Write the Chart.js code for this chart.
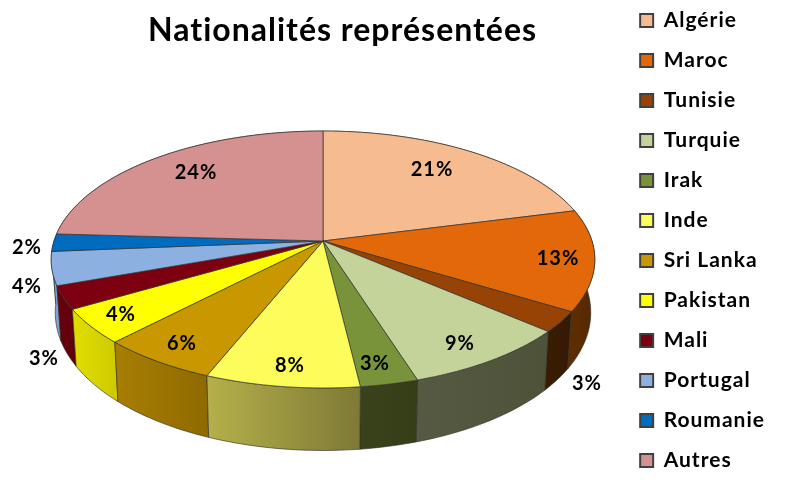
<!DOCTYPE html>
<html>
<head>
<meta charset="utf-8">
<title>Nationalités représentées</title>
<script src="https://cdn.jsdelivr.net/npm/chart.js@4"></script>
<style>
  html, body { margin: 0; padding: 0; background: #fff; }
  canvas { display: block; }
</style>
</head>
<body>
<canvas id="chart" width="800" height="497"></canvas>
<script>
const categories = ['Algérie', 'Maroc', 'Tunisie', 'Turquie', 'Irak', 'Inde', 'Sri Lanka', 'Pakistan', 'Mali', 'Portugal', 'Roumanie', 'Autres'];
const shares = [21, 12.7, 2.6, 8.8, 3, 8, 6.1, 4.4, 2.9, 4.2, 2.2, 24.1];

const topColors = ['#F6BB8E', '#E2680A', '#964305', '#C3D39A', '#789339', '#FCFC5B', '#C99700', '#FFFF00', '#7C0010', '#8CB1E0', '#006CBF', '#D59090'];
const wallLeft = ['#8a5a30', '#5e2d02', '#391c03', '#565A42', '#3A421B', '#B5B04A', '#A87E03', '#E2DE00', '#6C000E', '#7FA2D2', '#00589c', '#a06a6a'];
const wallRight = ['#8a5a30', '#562802', '#351a03', '#4E5239', '#363E18', '#7E7935', '#8F6A00', '#CFCB00', '#60000C', '#7FA2D2', '#00589c', '#a06a6a'];

// where the percentages sit, relative to the pie's apex
const labelOffsets = [[109, -71], [235, 18], [264, 143], [137, 103], [52, 123], [-33, 125], [-141, 103], [-202, 74], [-279, 118], [-296, 46], [-296, 7], [-127, -68]];

// perspective of the tilted disc
const apexX = 323, apexY = 241;
const radiusX = 269, radiusY = 125.8, tilt = 0.144;

function rimPoint(angle) {
  const x = Math.cos(angle), y = Math.sin(angle);
  const w = 1 - tilt * y;
  return { x: apexX + radiusX * x / w, y: apexY + radiusY * y / w, depth: 51.5 + 11 * y };
}

function lowerPoint(angle) {
  const p = rimPoint(angle);
  return { x: apexX + (p.x - apexX) * 0.985, y: p.y + p.depth };
}

function arcAngles(start, end) {
  const list = [];
  const steps = Math.max(2, Math.ceil((end - start) / 0.02));
  for (let i = 0; i <= steps; i++) {
    list.push(start + (end - start) * i / steps);
  }
  return list;
}

const pie3d = {
  id: 'pie3d',
  beforeUpdate(chart) {
    // the reference text runs wider than Lato
    chart.ctx.letterSpacing = '1px';
  },
  afterLayout(chart) {
    // legend needs the extra height to stay in one column, then moves up
    chart.legend.top -= 10;
    chart.legend.bottom -= 10;
  },
  beforeDatasetsDraw(chart) {
    const ctx = chart.ctx;
    const arcs = chart.getDatasetMeta(0).data;
    ctx.save();
    ctx.lineJoin = 'round';

    // walls back to front, the top face hides whatever is behind the disc
    const middle = arc => Math.sin((arc.startAngle + arc.endAngle) / 2);
    const order = arcs.map((arc, i) => i).sort((a, b) => middle(arcs[a]) - middle(arcs[b]));
    order.forEach(i => {
      const arc = arcs[i];
      const angles = arcAngles(arc.startAngle, arc.endAngle);
      const upper = angles.map(rimPoint);
      const lower = angles.map(lowerPoint).reverse();
      const xs = upper.map(p => p.x);
      const grad = ctx.createLinearGradient(Math.min(...xs), 0, Math.max(...xs), 0);
      grad.addColorStop(0, wallLeft[i]);
      grad.addColorStop(1, wallRight[i]);
      ctx.beginPath();
      upper.concat(lower).forEach((p, k) => (k ? ctx.lineTo(p.x, p.y) : ctx.moveTo(p.x, p.y)));
      ctx.closePath();
      ctx.fillStyle = grad;
      ctx.fill();
      ctx.strokeStyle = 'rgba(50,50,40,0.65)';
      ctx.lineWidth = 1;
      ctx.stroke();
    });

    arcs.forEach((arc, i) => {
      const upper = arcAngles(arc.startAngle, arc.endAngle).map(rimPoint);
      ctx.beginPath();
      ctx.moveTo(apexX, apexY);
      upper.forEach(p => ctx.lineTo(p.x, p.y));
      ctx.closePath();
      ctx.fillStyle = topColors[i];
      ctx.fill();
      ctx.strokeStyle = 'rgba(50,50,50,0.7)';
      ctx.lineWidth = 1;
      ctx.stroke();
    });

    ctx.restore();
    return false;
  },
  afterDraw(chart) {
    const ctx = chart.ctx;
    ctx.save();
    ctx.font = 'bold 20px Lato';
    ctx.fillStyle = '#000';
    ctx.textAlign = 'center';
    ctx.textBaseline = 'middle';
    shares.forEach((v, i) => {
      ctx.fillText(Math.round(v) + '%', apexX + labelOffsets[i][0], apexY + labelOffsets[i][1]);
    });
    ctx.restore();
  }
};

new Chart(document.getElementById('chart'), {
  type: 'pie',
  data: {
    labels: categories,
    datasets: [{
      data: shares,
      backgroundColor: topColors,
      borderColor: '#404040',
      borderWidth: 2
    }]
  },
  options: {
    responsive: false,
    animation: false,
    layout: { padding: { left: 64, right: 25, bottom: -4 } },
    plugins: {
      tooltip: { enabled: false },
      title: {
        display: true,
        text: 'Nationalités représentées',
        color: '#000',
        fullSize: false,
        font: { family: 'Lato', size: 32, weight: 'bold' },
        padding: { top: 11, bottom: 10 }
      },
      legend: {
        position: 'right',
        labels: {
          color: '#000',
          boxWidth: 13,
          boxHeight: 13,
          padding: 19,
          font: { family: 'Lato', size: 21, weight: 'bold' }
        }
      }
    }
  },
  plugins: [pie3d]
});
</script>
</body>
</html>
